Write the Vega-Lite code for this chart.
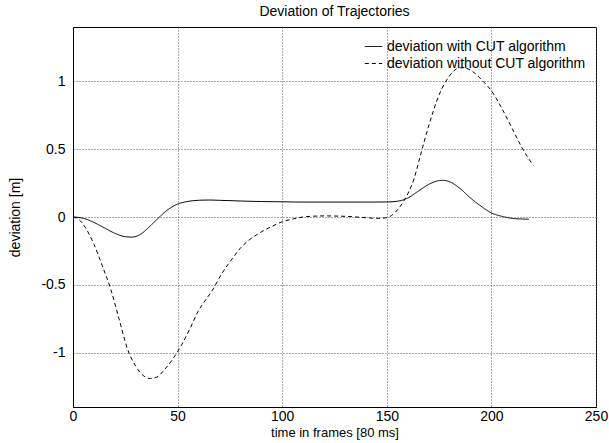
{
  "$schema": "https://vega.github.io/schema/vega-lite/v6.json",
  "autosize": {"type": "none"},
  "width": 523,
  "height": 380,
  "padding": {"left": 73, "top": 27, "right": 13, "bottom": 36},
  "background": "white",
  "config": {
    "font": "Liberation Sans",
    "view": {"stroke": "black", "strokeWidth": 1},
    "axis": {
      "labelFont": "Liberation Sans", "labelFontSize": 14, "labelColor": "black",
      "titleFont": "Liberation Sans", "titleFontSize": 14, "titleFontWeight": "normal", "titleColor": "black",
      "domainColor": "black", "grid": true, "gridColor": "#555", "gridDash": [1, 2], "gridOpacity": 1,
      "ticks": false
    },
    "legend": {"labelFont": "Liberation Sans", "labelFontSize": 14, "labelColor": "black", "labelLimit": 400}
  },
  "title": {"text": "Deviation of Trajectories", "font": "Liberation Sans", "fontSize": 14, "fontWeight": "normal", "color": "black", "offset": 8},
  "data": {"values": [
    {"t": 0, "d": 0, "s": "deviation with CUT algorithm"},
    {"t": 5, "d": -0.01, "s": "deviation with CUT algorithm"},
    {"t": 10, "d": -0.04, "s": "deviation with CUT algorithm"},
    {"t": 15, "d": -0.08, "s": "deviation with CUT algorithm"},
    {"t": 20, "d": -0.12, "s": "deviation with CUT algorithm"},
    {"t": 25, "d": -0.145, "s": "deviation with CUT algorithm"},
    {"t": 28, "d": -0.148, "s": "deviation with CUT algorithm"},
    {"t": 32, "d": -0.13, "s": "deviation with CUT algorithm"},
    {"t": 36, "d": -0.08, "s": "deviation with CUT algorithm"},
    {"t": 40, "d": -0.02, "s": "deviation with CUT algorithm"},
    {"t": 45, "d": 0.05, "s": "deviation with CUT algorithm"},
    {"t": 50, "d": 0.095, "s": "deviation with CUT algorithm"},
    {"t": 55, "d": 0.115, "s": "deviation with CUT algorithm"},
    {"t": 60, "d": 0.123, "s": "deviation with CUT algorithm"},
    {"t": 65, "d": 0.125, "s": "deviation with CUT algorithm"},
    {"t": 70, "d": 0.123, "s": "deviation with CUT algorithm"},
    {"t": 80, "d": 0.118, "s": "deviation with CUT algorithm"},
    {"t": 90, "d": 0.114, "s": "deviation with CUT algorithm"},
    {"t": 100, "d": 0.112, "s": "deviation with CUT algorithm"},
    {"t": 110, "d": 0.11, "s": "deviation with CUT algorithm"},
    {"t": 120, "d": 0.11, "s": "deviation with CUT algorithm"},
    {"t": 130, "d": 0.11, "s": "deviation with CUT algorithm"},
    {"t": 140, "d": 0.11, "s": "deviation with CUT algorithm"},
    {"t": 150, "d": 0.111, "s": "deviation with CUT algorithm"},
    {"t": 155, "d": 0.116, "s": "deviation with CUT algorithm"},
    {"t": 160, "d": 0.14, "s": "deviation with CUT algorithm"},
    {"t": 165, "d": 0.19, "s": "deviation with CUT algorithm"},
    {"t": 170, "d": 0.24, "s": "deviation with CUT algorithm"},
    {"t": 175, "d": 0.268, "s": "deviation with CUT algorithm"},
    {"t": 177, "d": 0.27, "s": "deviation with CUT algorithm"},
    {"t": 180, "d": 0.26, "s": "deviation with CUT algorithm"},
    {"t": 185, "d": 0.21, "s": "deviation with CUT algorithm"},
    {"t": 190, "d": 0.14, "s": "deviation with CUT algorithm"},
    {"t": 195, "d": 0.08, "s": "deviation with CUT algorithm"},
    {"t": 200, "d": 0.03, "s": "deviation with CUT algorithm"},
    {"t": 205, "d": 0.005, "s": "deviation with CUT algorithm"},
    {"t": 210, "d": -0.01, "s": "deviation with CUT algorithm"},
    {"t": 215, "d": -0.015, "s": "deviation with CUT algorithm"},
    {"t": 218, "d": -0.016, "s": "deviation with CUT algorithm"},
    {"t": 0, "d": 0, "s": "deviation without CUT algorithm"},
    {"t": 3, "d": -0.02, "s": "deviation without CUT algorithm"},
    {"t": 6, "d": -0.08, "s": "deviation without CUT algorithm"},
    {"t": 10, "d": -0.2, "s": "deviation without CUT algorithm"},
    {"t": 14, "d": -0.36, "s": "deviation without CUT algorithm"},
    {"t": 18, "d": -0.53, "s": "deviation without CUT algorithm"},
    {"t": 22, "d": -0.75, "s": "deviation without CUT algorithm"},
    {"t": 26, "d": -0.97, "s": "deviation without CUT algorithm"},
    {"t": 30, "d": -1.1, "s": "deviation without CUT algorithm"},
    {"t": 33, "d": -1.16, "s": "deviation without CUT algorithm"},
    {"t": 37, "d": -1.19, "s": "deviation without CUT algorithm"},
    {"t": 40, "d": -1.18, "s": "deviation without CUT algorithm"},
    {"t": 44, "d": -1.12, "s": "deviation without CUT algorithm"},
    {"t": 48, "d": -1.04, "s": "deviation without CUT algorithm"},
    {"t": 52, "d": -0.94, "s": "deviation without CUT algorithm"},
    {"t": 56, "d": -0.82, "s": "deviation without CUT algorithm"},
    {"t": 60, "d": -0.69, "s": "deviation without CUT algorithm"},
    {"t": 63, "d": -0.62, "s": "deviation without CUT algorithm"},
    {"t": 67, "d": -0.53, "s": "deviation without CUT algorithm"},
    {"t": 71, "d": -0.42, "s": "deviation without CUT algorithm"},
    {"t": 76, "d": -0.31, "s": "deviation without CUT algorithm"},
    {"t": 80, "d": -0.23, "s": "deviation without CUT algorithm"},
    {"t": 85, "d": -0.16, "s": "deviation without CUT algorithm"},
    {"t": 90, "d": -0.11, "s": "deviation without CUT algorithm"},
    {"t": 95, "d": -0.07, "s": "deviation without CUT algorithm"},
    {"t": 100, "d": -0.035, "s": "deviation without CUT algorithm"},
    {"t": 105, "d": -0.015, "s": "deviation without CUT algorithm"},
    {"t": 110, "d": 0.0, "s": "deviation without CUT algorithm"},
    {"t": 115, "d": 0.006, "s": "deviation without CUT algorithm"},
    {"t": 120, "d": 0.008, "s": "deviation without CUT algorithm"},
    {"t": 130, "d": 0.005, "s": "deviation without CUT algorithm"},
    {"t": 140, "d": -0.005, "s": "deviation without CUT algorithm"},
    {"t": 145, "d": -0.01, "s": "deviation without CUT algorithm"},
    {"t": 150, "d": -0.005, "s": "deviation without CUT algorithm"},
    {"t": 153, "d": 0.02, "s": "deviation without CUT algorithm"},
    {"t": 156, "d": 0.07, "s": "deviation without CUT algorithm"},
    {"t": 160, "d": 0.17, "s": "deviation without CUT algorithm"},
    {"t": 163, "d": 0.28, "s": "deviation without CUT algorithm"},
    {"t": 166, "d": 0.45, "s": "deviation without CUT algorithm"},
    {"t": 170, "d": 0.67, "s": "deviation without CUT algorithm"},
    {"t": 175, "d": 0.9, "s": "deviation without CUT algorithm"},
    {"t": 180, "d": 1.04, "s": "deviation without CUT algorithm"},
    {"t": 185, "d": 1.1, "s": "deviation without CUT algorithm"},
    {"t": 188, "d": 1.095, "s": "deviation without CUT algorithm"},
    {"t": 192, "d": 1.06, "s": "deviation without CUT algorithm"},
    {"t": 196, "d": 1.0, "s": "deviation without CUT algorithm"},
    {"t": 200, "d": 0.93, "s": "deviation without CUT algorithm"},
    {"t": 205, "d": 0.8, "s": "deviation without CUT algorithm"},
    {"t": 210, "d": 0.65, "s": "deviation without CUT algorithm"},
    {"t": 215, "d": 0.5, "s": "deviation without CUT algorithm"},
    {"t": 220, "d": 0.38, "s": "deviation without CUT algorithm"}
  ]},
  "mark": {"type": "line", "interpolate": "monotone", "color": "black", "strokeWidth": 1},
  "encoding": {
    "x": {"field": "t", "type": "quantitative", "scale": {"domain": [0, 250], "nice": false},
      "axis": {"title": "time in frames [80 ms]", "titleFontSize": 13, "values": [0, 50, 100, 150, 200, 250], "labelPadding": 2, "titlePadding": 3, "labelFlush": false}},
    "y": {"field": "d", "type": "quantitative", "scale": {"domain": [-1.4, 1.4], "nice": false, "zero": false},
      "axis": {"title": "deviation [m]", "values": [-1, -0.5, 0, 0.5, 1], "labelExpr": "datum.value + ''", "labelPadding": 8, "titlePadding": 18}},
    "strokeDash": {"field": "s", "type": "nominal",
      "scale": {"domain": ["deviation with CUT algorithm", "deviation without CUT algorithm"], "range": [[1, 0], [4, 3]]},
      "legend": {"title": null, "orient": "top-right", "symbolType": "stroke", "symbolStrokeColor": "black", "symbolSize": 300, "symbolStrokeWidth": 1, "rowPadding": -4, "offset": 10}}
  }
}
